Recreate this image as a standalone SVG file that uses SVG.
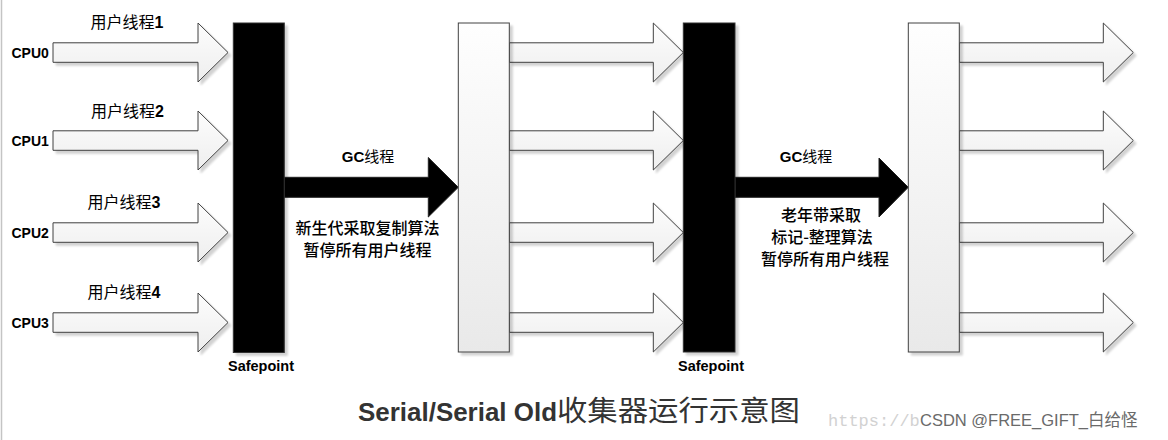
<svg xmlns="http://www.w3.org/2000/svg" width="1168" height="440" viewBox="0 0 1168 440">
<defs>
<linearGradient id="gArrow" x1="0" y1="0" x2="0" y2="1">
<stop offset="0" stop-color="#fdfdfd"/>
<stop offset="1" stop-color="#eeeeee"/>
</linearGradient>
<linearGradient id="gRect" x1="0" y1="0" x2="0" y2="1">
<stop offset="0" stop-color="#fefefe"/>
<stop offset="1" stop-color="#e9e9e9"/>
</linearGradient>
<filter id="sh" x="-10%" y="-10%" width="130%" height="130%">
<feGaussianBlur in="SourceAlpha" stdDeviation="1"/>
<feOffset dx="3" dy="3" result="o"/>
<feComponentTransfer><feFuncA type="linear" slope="0.18"/></feComponentTransfer>
<feMerge><feMergeNode/><feMergeNode in="SourceGraphic"/></feMerge>
</filter>
<style>
.wa{fill:url(#gArrow);stroke:#404040;stroke-width:1;filter:url(#sh)}
.ba{fill:#000;stroke:#222;stroke-width:1}
.bar{fill:#000;stroke:#333;stroke-width:1;filter:url(#sh)}
.box{fill:url(#gRect);stroke:#404040;stroke-width:1;filter:url(#sh)}
.lat{font-family:"Liberation Sans",Arial,sans-serif;font-weight:bold;fill:#000}
.cjk{font-family:"Noto Sans CJK SC","Noto Sans",sans-serif;fill:#000}
.cpu{font-size:14px}
.ut{font-size:16px}
.desc{font-size:16px;text-anchor:middle;font-weight:500}
</style>
</defs>
<rect x="0" y="0" width="1168" height="440" fill="#ffffff"/>
<line x1="1.5" y1="0" x2="1.5" y2="440" stroke="#c4c4c4" stroke-width="1.5"/>

<g id="connectors">
<!-- CPU -> Safepoint 1 -->
<path class="wa" d="M53,42.8 H198 V23 L228,52.5 L198,82 V62.3 H53 Z"/>
<path class="wa" d="M53,130.8 H198 V111 L228,140.5 L198,170 V150.3 H53 Z"/>
<path class="wa" d="M53,222.8 H198 V203 L228,232.5 L198,262 V242.3 H53 Z"/>
<path class="wa" d="M53,312.8 H198 V293 L228,322.5 L198,352 V332.3 H53 Z"/>
<!-- box1 -> Safepoint 2 -->
<path class="wa" d="M509.3,42.8 H653.3 V23 L683.3,52.5 L653.3,82 V62.3 H509.3 Z"/>
<path class="wa" d="M509.3,130.8 H653.3 V111 L683.3,140.5 L653.3,170 V150.3 H509.3 Z"/>
<path class="wa" d="M509.3,222.8 H653.3 V203 L683.3,232.5 L653.3,262 V242.3 H509.3 Z"/>
<path class="wa" d="M509.3,312.8 H653.3 V293 L683.3,322.5 L653.3,352 V332.3 H509.3 Z"/>
<!-- box2 -> out -->
<path class="wa" d="M959.3,42.8 H1103.3 V23 L1133.3,52.5 L1103.3,82 V62.3 H959.3 Z"/>
<path class="wa" d="M959.3,130.8 H1103.3 V111 L1133.3,140.5 L1103.3,170 V150.3 H959.3 Z"/>
<path class="wa" d="M959.3,222.8 H1103.3 V203 L1133.3,232.5 L1103.3,262 V242.3 H959.3 Z"/>
<path class="wa" d="M959.3,312.8 H1103.3 V293 L1133.3,322.5 L1103.3,352 V332.3 H959.3 Z"/>
<!-- GC thread arrows -->
<path class="ba" d="M284,177.3 H428.3 V157.5 L458.3,187.3 L428.3,217 V197.3 H284 Z"/>
<path class="ba" d="M735,177.3 H879 V158 L908.3,187.3 L879,217 V197.3 H735 Z"/>
</g>

<g id="cpu-labels">
<text class="lat cpu" x="11.5" y="57.5">CPU0</text>
<text class="lat cpu" x="11.5" y="145.5">CPU1</text>
<text class="lat cpu" x="11.5" y="237.5">CPU2</text>
<text class="lat cpu" x="11.5" y="327.5">CPU3</text>
</g>

<g id="thread-labels">
<text class="ut" x="90.5" y="28"><tspan class="cjk">用户线程</tspan><tspan class="lat">1</tspan></text>
<text class="ut" x="91" y="116.5"><tspan class="cjk">用户线程</tspan><tspan class="lat">2</tspan></text>
<text class="ut" x="87.5" y="208"><tspan class="cjk">用户线程</tspan><tspan class="lat">3</tspan></text>
<text class="ut" x="87.5" y="298"><tspan class="cjk">用户线程</tspan><tspan class="lat">4</tspan></text>
</g>

<g id="safepoint1">
<rect class="bar" x="233.3" y="23" width="51" height="329.5"/>
<text class="lat" x="228" y="371" font-size="14" textLength="66" lengthAdjust="spacingAndGlyphs">Safepoint</text>
</g>

<g id="gc1-label">
<text x="368" y="162" text-anchor="middle" font-size="15"><tspan class="lat">GC</tspan><tspan class="cjk">线程</tspan></text>
<text class="cjk desc" x="367.5" y="234">新生代采取复制算法</text>
<text class="cjk desc" x="367.5" y="256">暂停所有用户线程</text>
</g>

<g id="box1">
<rect class="box" x="458.3" y="23" width="51" height="329"/>
</g>

<g id="safepoint2">
<rect class="bar" x="683.3" y="23" width="51.7" height="329"/>
<text class="lat" x="678" y="371" font-size="14" textLength="66" lengthAdjust="spacingAndGlyphs">Safepoint</text>
</g>

<g id="gc2-label">
<text x="806" y="162" text-anchor="middle" font-size="15"><tspan class="lat">GC</tspan><tspan class="cjk">线程</tspan></text>
<text class="cjk desc" x="821" y="220.5">老年带采取</text>
<text class="cjk desc" x="822" y="242.5">标记-整理算法</text>
<text class="cjk desc" x="825" y="264.5">暂停所有用户线程</text>
</g>

<g id="box2">
<rect class="box" x="908.3" y="23" width="51" height="329"/>
</g>

<g id="title">
<text x="358" y="421" font-family="Liberation Sans, Arial, sans-serif" font-weight="bold" font-size="26" fill="#333333" textLength="199" lengthAdjust="spacingAndGlyphs">Serial/Serial Old</text>
<text x="557" y="421" font-family="Noto Sans CJK SC, sans-serif" font-size="28" fill="#333333" textLength="243" lengthAdjust="spacingAndGlyphs">收集器运行示意图</text>
</g>

<g id="watermark">
<text x="828" y="426" font-family="Liberation Mono, monospace" font-size="17" fill="#d2d2d2">https://b</text>
<text x="920" y="426" font-family="Liberation Sans, Arial, sans-serif" font-size="16.5" fill="#6a6a6a">CSDN @FREE_GIFT_<tspan font-family="Noto Sans CJK SC, sans-serif">白给怪</tspan></text>
</g>
</svg>
